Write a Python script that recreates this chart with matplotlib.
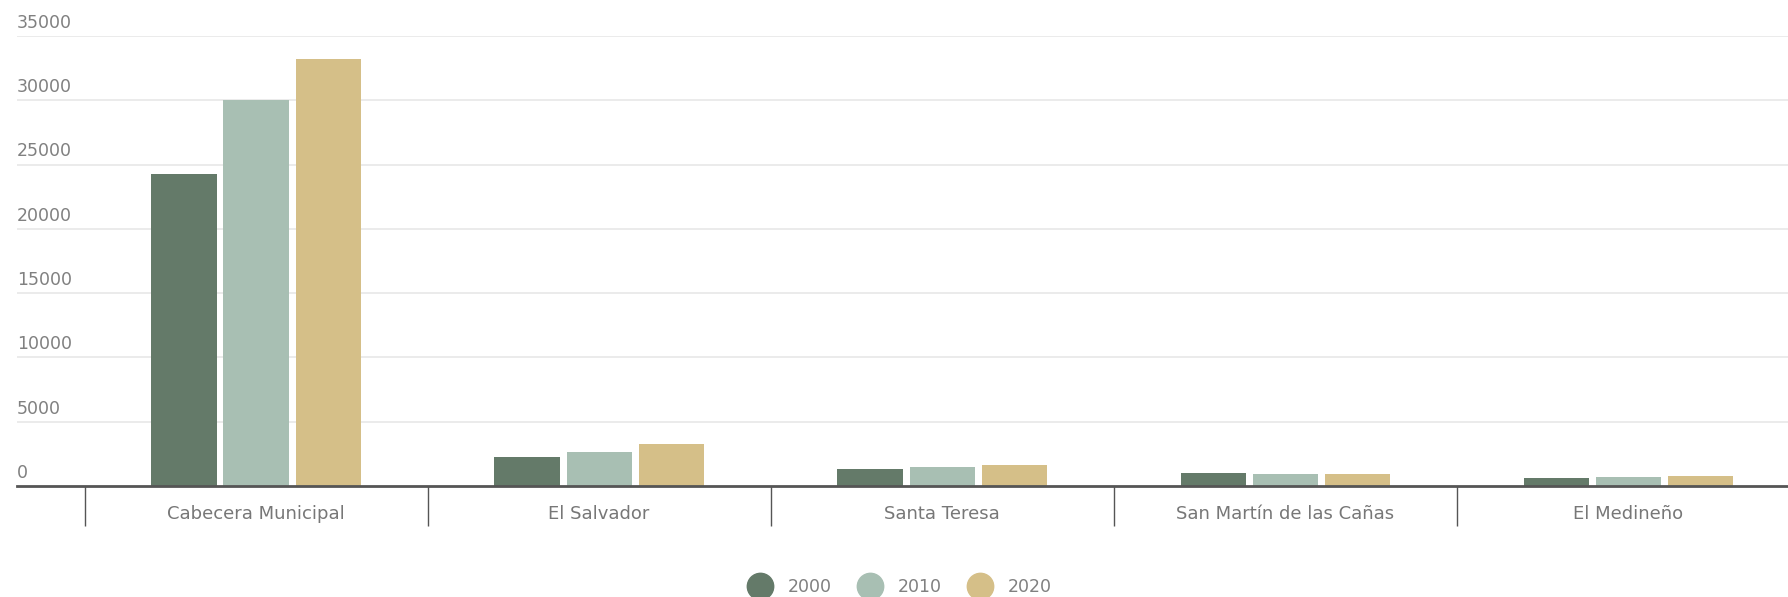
import matplotlib
matplotlib.use("Agg")
import numpy as np
import matplotlib.pyplot as plt
from matplotlib.lines import Line2D
from matplotlib.transforms import blended_transform_factory

# Population per locality and census year
localidades = ["Cabecera Municipal", "El Salvador", "Santa Teresa",
               "San Martín de las Cañas", "El Medineño"]
anios = ["2000", "2010", "2020"]
pob_2000 = [24300, 2280, 1320, 1030, 620]
pob_2010 = [30000, 2620, 1500, 930, 720]
pob_2020 = [33200, 3270, 1610, 900, 780]
y_ticks = [0, 5000, 10000, 15000, 20000, 25000, 30000, 35000]

colores = ["#647a69", "#a8bfb3", "#d5bf88"]
series = [pob_2000, pob_2010, pob_2020]

plt.rcParams["font.family"] = ["DejaVu Sans"]

fig = plt.figure(figsize=(17.88, 5.97), dpi=100)
ax = fig.add_axes([17 / 1788, 111 / 597, 1 - 17 / 1788, (486 - 36) / 597])

x = np.arange(len(localidades))
ancho = 0.19
paso = 0.21
for i, (vals, col) in enumerate(zip(series, colores)):
    ax.bar(x + (i - 1) * paso, vals, width=ancho, color=col, zorder=3)

ax.set_ylim(0, 35000)
ax.set_xlim(-0.697, 4.466)

# light horizontal grid
for v in y_ticks[1:]:
    ax.axhline(v, color="#e8e8e8", lw=1.2, zorder=1)

# y labels sit above each grid line
trans = blended_transform_factory(ax.transAxes, ax.transData)
for v in y_ticks:
    ax.annotate(str(v), xy=(0, v), xycoords=trans, xytext=(0, 9.5),
                textcoords="offset points", ha="left", va="center",
                fontsize=12.5, color="#808080")
ax.set_yticks([])

for s in ["top", "right", "left"]:
    ax.spines[s].set_visible(False)
ax.spines["bottom"].set_color("#555555")
ax.spines["bottom"].set_linewidth(2)
ax.spines["bottom"].set_zorder(4)

# category labels and separators below the axis
ax.set_xticks(x)
ax.set_xticklabels(localidades, fontsize=13, color="#777777")
ax.tick_params(axis="x", which="major", length=0, pad=14)
ax.set_xticks(np.arange(-0.5, 4.0, 1.0), minor=True)
ax.tick_params(axis="x", which="minor", length=29, width=1, color="#555555",
               direction="out")

handles = [Line2D([], [], marker="o", linestyle="none", markersize=19,
                  markerfacecolor=c, markeredgecolor=c) for c in colores]
fig.legend(handles, anios, loc="center", bbox_to_anchor=(0.502, 10 / 597),
           ncol=3, frameon=False, fontsize=12.5, labelcolor="#808080",
           handletextpad=0.6, columnspacing=1.2)

fig.savefig("out.png", dpi=100, facecolor="white")
